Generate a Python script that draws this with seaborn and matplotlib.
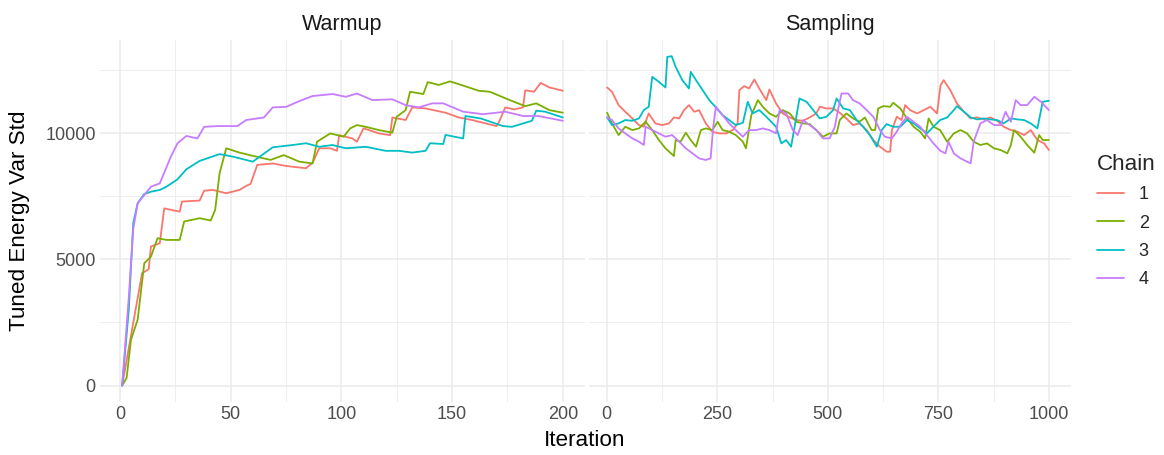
import pandas as pd
import matplotlib
matplotlib.use("Agg")
import matplotlib.pyplot as plt
from matplotlib.lines import Line2D
from matplotlib.ticker import MultipleLocator
import seaborn as sns

# --- data ---
chains = ["1", "2", "3", "4"]
colors = ["#F8766D", "#7CAE00", "#00BFC4", "#C77CFF"]

# warmup phase (iterations 1..200)
warm_x1 = [1, 6, 10, 13, 14, 18, 20, 27, 28, 36, 38, 42, 48, 54, 57, 59, 62, 69, 75, 84,
           87, 90, 95, 98, 99, 105, 107, 110, 117, 122, 123, 129, 132, 138, 147, 153, 159,
           170, 171, 174, 178, 182, 183, 187, 190, 194, 200]
warm_y1 = [0, 2480, 4450, 4610, 5510, 5640, 7020, 6890, 7290, 7330, 7720, 7750, 7620, 7750,
           7910, 7990, 8740, 8800, 8700, 8610, 8830, 9400, 9400, 9300, 9920, 9790, 9660,
           10190, 9990, 9920, 10620, 10520, 11020, 10980, 10810, 10620, 10520, 10280, 10410,
           11020, 10940, 11020, 11700, 11640, 11990, 11810, 11680]
warm_x2 = [1, 3, 5, 8, 11, 14, 17, 21, 27, 29, 36, 41, 43, 45, 48, 54, 60, 68, 74, 81,
           87, 89, 95, 101, 104, 107, 111, 117, 123, 125, 129, 131, 137, 139, 144, 149, 153,
           162, 167, 176, 183, 188, 194, 200]
warm_y2 = [0, 300, 1820, 2610, 4850, 5110, 5840, 5770, 5770, 6500, 6630, 6540, 6960, 8410,
           9400, 9230, 9100, 8940, 9130, 8870, 8800, 9660, 9990, 9860, 10190, 10320, 10250,
           10120, 10020, 10650, 10910, 11640, 11550, 12020, 11910, 12050, 11940, 11680,
           11640, 11310, 11070, 11180, 10910, 10810]
warm_x3 = [1, 4, 6, 8, 11, 14, 18, 21, 26, 30, 36, 45, 51, 60, 69, 78, 84, 90, 96, 102,
           111, 120, 126, 132, 138, 140, 146, 147, 155, 156, 163, 173, 177, 186, 188, 192, 200]
warm_y3 = [0, 3000, 6430, 7220, 7590, 7680, 7750, 7880, 8170, 8570, 8900, 9170, 9070, 8870,
           9440, 9530, 9600, 9460, 9530, 9400, 9460, 9300, 9300, 9230, 9300, 9600, 9570,
           9930, 9790, 10680, 10580, 10280, 10250, 10490, 10890, 10850, 10620]
warm_x4 = [1, 4, 6, 8, 14, 18, 23, 26, 30, 35, 38, 44, 53, 57, 65, 69, 75, 81, 87, 96,
           102, 107, 114, 123, 129, 135, 141, 146, 155, 164, 174, 182, 189, 200]
warm_y4 = [0, 3500, 6200, 7220, 7880, 8010, 9070, 9600, 9890, 9790, 10250, 10280, 10280,
           10520, 10620, 11020, 11040, 11270, 11470, 11550, 11440, 11570, 11310, 11340,
           11110, 11020, 11180, 11180, 10850, 10750, 10850, 10680, 10680, 10490]

# sampling phase (iterations 1..1000)
samp_x1 = [1, 12, 27, 42, 58, 73, 84, 95, 110, 126, 141, 152, 164, 175, 186, 198, 209, 224,
           239, 255, 270, 285, 296, 300, 311, 322, 334, 345, 361, 368, 383, 398, 414, 429,
           444, 459, 474, 482, 497, 512, 527, 542, 557, 572, 588, 603, 618, 633, 641, 645,
           656, 667, 675, 686, 702, 717, 732, 747, 755, 762, 777, 792, 808, 823, 838, 853,
           868, 883, 898, 914, 929, 944, 959, 974, 989, 1000]
samp_y1 = [11809, 11638, 11111, 10847, 10584, 10320, 10254, 10781, 10386, 10320, 10386,
           10623, 10584, 10913, 11111, 10847, 10913, 10386, 10056, 9990, 9990, 10122, 10386,
           11704, 11862, 11770, 12126, 11770, 11308, 11730, 11177, 10781, 10623, 10518,
           10491, 10623, 10781, 11045, 10979, 10979, 10808, 10584, 10320, 10386, 10122, 9727,
           9463, 9265, 9265, 10122, 10649, 10518, 11111, 10913, 10781, 10913, 11045, 10781,
           11902, 12099, 11704, 11177, 10847, 10584, 10623, 10544, 10623, 10491, 10254,
           10122, 10056, 9924, 10122, 9727, 9595, 9331]
samp_x2 = [1, 12, 27, 42, 58, 73, 88, 103, 118, 133, 152, 156, 167, 179, 190, 202, 213, 224,
           239, 251, 262, 277, 292, 308, 315, 327, 342, 353, 368, 383, 398, 414, 429, 444,
           459, 474, 489, 504, 520, 527, 542, 557, 572, 584, 599, 607, 614, 626, 641, 648,
           664, 679, 694, 709, 720, 728, 739, 754, 770, 785, 800, 815, 830, 845, 860, 876,
           891, 906, 914, 921, 936, 951, 967, 978, 986, 1000]
samp_y2 = [10808, 10386, 9924, 10254, 10122, 10188, 10452, 10122, 9727, 9397, 9094, 9727,
           9661, 10017, 9727, 9463, 10122, 10188, 10122, 10452, 10122, 10056, 9924, 9661,
           9397, 10715, 11308, 11045, 10781, 10649, 10913, 10781, 10452, 10386, 10359, 10122,
           9859, 9990, 9990, 10518, 10781, 10584, 10452, 10623, 10122, 10122, 10979, 11071,
           11045, 11203, 10979, 10584, 10254, 10056, 9793, 10584, 10254, 10122, 9661, 9990,
           10122, 9990, 9661, 9529, 9595, 9397, 9331, 9200, 9529, 10122, 9859, 9529, 9226,
           9924, 9727, 9727]
samp_x3 = [1, 12, 27, 42, 58, 73, 84, 95, 103, 118, 133, 137, 147, 156, 171, 186, 190, 202,
           217, 232, 247, 262, 277, 292, 308, 319, 330, 345, 361, 383, 395, 406, 417, 425,
           436, 452, 467, 482, 497, 512, 520, 535, 550, 565, 580, 595, 611, 622, 633, 648,
           664, 679, 694, 709, 724, 739, 754, 770, 785, 792, 808, 823, 838, 853, 868, 883,
           898, 914, 929, 944, 959, 974, 986, 1000]
samp_y3 = [10623, 10320, 10386, 10518, 10491, 10584, 10913, 11045, 12231, 12033, 11809,
           13022, 13048, 12626, 12099, 11770, 12429, 12099, 11704, 11308, 11018, 10715,
           10518, 10320, 10412, 11243, 10781, 10913, 10649, 10254, 9595, 9727, 9463, 10254,
           11374, 11243, 10913, 10584, 10649, 10913, 11374, 10979, 10913, 10518, 10254, 9924,
           9463, 10122, 10359, 10254, 10254, 10518, 10386, 10188, 9990, 10254, 10518, 10623,
           10913, 11071, 10847, 10623, 10544, 10584, 10544, 10518, 10386, 10584, 10544,
           10518, 10386, 10188, 11243, 11282]
samp_x4 = [1, 12, 27, 42, 58, 73, 84, 88, 103, 118, 133, 148, 164, 179, 194, 209, 224, 235,
           241, 247, 262, 277, 292, 308, 322, 338, 353, 368, 383, 391, 406, 421, 432, 444,
           459, 474, 489, 504, 516, 523, 531, 546, 557, 572, 588, 603, 618, 629, 645, 656,
           667, 679, 694, 709, 724, 739, 754, 766, 773, 785, 800, 815, 823, 830, 845, 860,
           876, 891, 902, 914, 925, 936, 951, 967, 982, 1000]
samp_y4 = [10623, 10518, 10188, 9990, 9793, 9661, 9529, 10254, 10122, 9990, 9859, 9924,
           9661, 9397, 9200, 9002, 8936, 9002, 10254, 11045, 10715, 10386, 10122, 9859,
           10122, 10122, 10188, 10122, 9990, 10913, 10781, 10122, 9924, 10518, 10320, 10122,
           9793, 9793, 10254, 10913, 11572, 11572, 11308, 11177, 10913, 10649, 10122, 9859,
           9793, 10056, 10386, 10649, 10452, 10254, 9924, 9595, 9305, 9200, 9661, 9200, 9002,
           8870, 8804, 9661, 10386, 10518, 10320, 10320, 10847, 10452, 11308, 11111, 11111,
           11440, 11243, 10913]

# build a long table
frames = []
for ch, wx, wy, sx, sy in zip(chains,
                              [warm_x1, warm_x2, warm_x3, warm_x4],
                              [warm_y1, warm_y2, warm_y3, warm_y4],
                              [samp_x1, samp_x2, samp_x3, samp_x4],
                              [samp_y1, samp_y2, samp_y3, samp_y4]):
    frames.append(pd.DataFrame({"Iteration": wx, "Value": wy, "Chain": ch, "Phase": "Warmup"}))
    frames.append(pd.DataFrame({"Iteration": sx, "Value": sy, "Chain": ch, "Phase": "Sampling"}))
df = pd.concat(frames, ignore_index=True)

sns.set_theme(style="white")
plt.rcParams["font.family"] = ["Liberation Sans", "DejaVu Sans"]

W, H = 1164, 455
fig = plt.figure(figsize=(W / 100, H / 100), dpi=100)
ax_w = fig.add_axes([100 / W, (H - 402) / H, 485 / W, 362 / H])
ax_s = fig.add_axes([589 / W, (H - 402) / H, 482 / W, 362 / H])

palette = dict(zip(chains, colors))
grid_col = "#EBEBEB"

for ax, phase, xlim, major, minor in [(ax_w, "Warmup", (-9, 210), 50, 25),
                                      (ax_s, "Sampling", (-40, 1050), 250, 125)]:
    sns.lineplot(data=df[df["Phase"] == phase], x="Iteration", y="Value", hue="Chain",
                 palette=palette, estimator=None, sort=False, lw=1.3, legend=False, ax=ax)
    ax.set_xlim(*xlim)
    ax.set_ylim(-650, 13690)
    ax.xaxis.set_major_locator(MultipleLocator(major))
    ax.xaxis.set_minor_locator(MultipleLocator(minor))
    ax.yaxis.set_major_locator(MultipleLocator(5000))
    ax.yaxis.set_minor_locator(MultipleLocator(2500))
    ax.grid(which="major", color=grid_col, lw=1.1)
    ax.grid(which="minor", color=grid_col, lw=0.6)
    ax.set_axisbelow(True)
    for s in ax.spines.values():
        s.set_visible(False)
    ax.tick_params(which="both", length=0, labelsize=13, labelcolor="#4D4D4D", pad=3)
    ax.set_xlabel("")
    ax.set_ylabel("")
    ax.set_title(phase, fontsize=15.5, color="#1A1A1A", pad=7)

ax_s.tick_params(axis="y", labelleft=False)
ax_w.set_yticks([0, 5000, 10000])
ax_w.set_yticklabels(["0", "5000", "10000"])

fig.text(20 / W, 1 - 221 / H, "Tuned Energy Var Std", rotation=90, ha="center", va="center",
         fontsize=16.2, color="black")
fig.text(585 / W, 1 - 440 / H, "Iteration", ha="center", va="center", fontsize=16.2,
         color="black")

handles = [Line2D([0], [0], color=c, lw=1.3) for c in colors]
leg = fig.legend(handles, chains, title="Chain", loc="upper left",
                 bbox_to_anchor=(1081 / W, 1 - 138 / H), frameon=False, fontsize=13,
                 title_fontsize=16.2, handlelength=1.5, labelspacing=0.62, handletextpad=0.8)
leg._legend_box.align = "left"

fig.savefig("out.png", dpi=100)
